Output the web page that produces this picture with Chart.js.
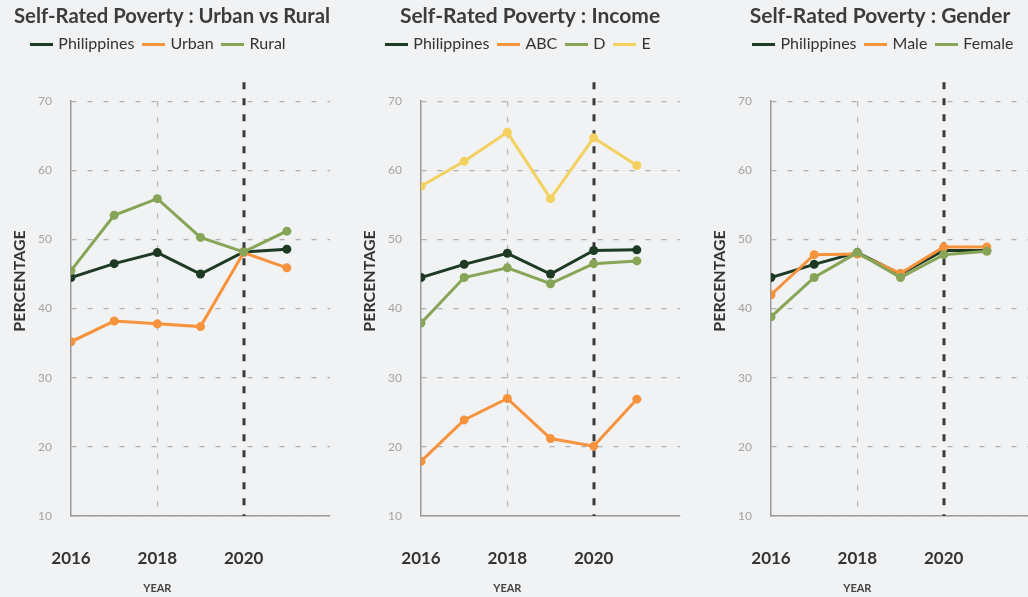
<!DOCTYPE html>
<html>
<head>
<meta charset="utf-8">
<script src="https://cdn.jsdelivr.net/npm/chart.js@4.4.1/dist/chart.umd.min.js"></script>
<style>
  html, body { margin: 0; padding: 0; background: #f1f2f4; width: 1028px; height: 597px; overflow: hidden; }
  .row { display: flex; width: 1050px; height: 597px; }
  .panel { width: 350px; height: 597px; flex: 0 0 350px; }
</style>
</head>
<body>
<div class="row">
  <div class="panel"><canvas id="c1" width="350" height="597"></canvas></div>
  <div class="panel"><canvas id="c2" width="350" height="597"></canvas></div>
  <div class="panel"><canvas id="c3" width="350" height="597"></canvas></div>
</div>
<script>
// ---- data ----
const years = [2016, 2017, 2018, 2019, 2020, 2021];
const xTickLabels = [2016, 2018, 2020];
const yTicks = [10, 20, 30, 40, 50, 60, 70];

const titles = [
  "Self-Rated Poverty : Urban vs Rural",
  "Self-Rated Poverty : Income",
  "Self-Rated Poverty : Gender"
];

// Panel 1: Urban vs Rural
const urbanRuralNames = ["Philippines", "Urban", "Rural"];
const ph1 = [44.5, 46.5, 48.1, 45.0, 48.2, 48.6];
const urban = [35.2, 38.2, 37.8, 37.4, 48.1, 45.9];
const rural = [45.5, 53.5, 55.9, 50.3, 48.2, 51.2];

// Panel 2: Income
const incomeNames = ["Philippines", "ABC", "D", "E"];
const ph2 = [44.5, 46.4, 48.0, 45.0, 48.4, 48.5];
const abc = [17.9, 23.9, 27.0, 21.2, 20.1, 26.9];
const classD = [37.9, 44.5, 45.9, 43.6, 46.5, 46.9];
const classE = [57.7, 61.3, 65.5, 55.9, 64.7, 60.7];

// Panel 3: Gender
const genderNames = ["Philippines", "Male", "Female"];
const ph3 = [44.5, 46.4, 48.1, 45.0, 48.4, 48.4];
const male = [42.0, 47.8, 47.9, 45.1, 48.9, 48.9];
const female = [38.8, 44.5, 48.1, 44.5, 47.8, 48.3];

const markerYear = 2020;
const xTitleAnchor = 2018;   // where the "YEAR" title sits along the x axis
const yTitleAnchor = 44;     // where the "PERCENTAGE" title sits along the y axis

// ---- styles ----
const C_PH = "#1d3a23";
const C_OR = "#f7923d";
const C_GR = "#87a556";
const C_YE = "#f4d15f";
const FONT = "Lato";

function lineSwatch(color) {
  const c = document.createElement("canvas");
  c.width = 23; c.height = 3;
  const g = c.getContext("2d");
  g.fillStyle = color;
  g.fillRect(0, 0, 23, 3);
  return c;
}

function makeDatasets(names, series, colors) {
  const n = names.length;
  return names.map((name, i) => ({
    label: name,
    data: years.map((yr, j) => ({ x: yr, y: series[i][j] })),
    borderColor: colors[i],
    backgroundColor: colors[i],
    pointBackgroundColor: colors[i],
    pointBorderColor: colors[i],
    borderWidth: 3,
    pointRadius: 4.5,
    pointBorderWidth: 0,
    pointHoverRadius: 4.5,
    tension: 0,
    order: n - i
  }));
}

const markerPlugin = {
  id: "marker2020",
  beforeDatasetsDraw(chart) {
    const ctx = chart.ctx;
    const xs = chart.scales.x;
    const area = chart.chartArea;
    const x = Math.round(xs.getPixelForValue(markerYear));
    ctx.save();
    ctx.strokeStyle = "#3a3a3a";
    ctx.lineWidth = 3;
    ctx.setLineDash([7, 9]);
    ctx.beginPath();
    ctx.moveTo(x, area.top - 19);
    ctx.lineTo(x, area.bottom);
    ctx.stroke();
    ctx.restore();
  }
};

const axisTitles = {
  id: "axisTitles",
  afterDraw(chart) {
    const ctx = chart.ctx;
    const xs = chart.scales.x, ys = chart.scales.y;
    ctx.save();
    ctx.fillStyle = "#444";
    ctx.textAlign = "center";
    ctx.textBaseline = "middle";
    ctx.font = "bold 11px " + FONT;
    ctx.fillText("YEAR", xs.getPixelForValue(xTitleAnchor), chart.height - 9);
    ctx.translate(20, ys.getPixelForValue(yTitleAnchor));
    ctx.rotate(-Math.PI / 2);
    ctx.fillStyle = "#333";
    ctx.font = "bold 16px " + FONT;
    ctx.fillText("PERCENTAGE", 0, 0);
    ctx.restore();
  }
};

function legendTweak(dx) {
  return {
    id: "legendTweak",
    beforeInit(chart) {
      const origFit = chart.legend.fit;
      chart.legend.fit = function () {
        origFit.bind(chart.legend)();
        this.height += 39;
      };
    },
    afterLayout(chart) {
      const lg = chart.legend;
      lg.left += dx;
      lg.right += dx;
      if (lg.legendHitBoxes) lg.legendHitBoxes.forEach(h => { h.left += dx; });
    }
  };
}

function makeChart(id, title, datasets, padLeft, legendDx) {
  return new Chart(document.getElementById(id), {
    type: "line",
    data: { datasets },
    plugins: [legendTweak(legendDx), markerPlugin, axisTitles],
    options: {
      responsive: false,
      devicePixelRatio: 1,
      animation: false,
      layout: { padding: { left: padLeft, right: 20, top: 0, bottom: 0 } },
      plugins: {
        title: {
          display: true,
          text: title,
          color: "#3c3c3c",
          font: { family: FONT, size: 21, weight: "bold" },
          padding: { top: 4, bottom: -3 }
        },
        legend: {
          display: true,
          labels: {
            usePointStyle: true,
            pointStyleWidth: 18,
            boxHeight: 14,
            color: "#333",
            padding: 10,
            font: { family: FONT, size: 16 },
            generateLabels(chart) {
              const items = Chart.defaults.plugins.legend.labels.generateLabels(chart);
              items.forEach(it => {
                it.pointStyle = lineSwatch(chart.data.datasets[it.datasetIndex].borderColor);
                it.lineWidth = 0;
              });
              return items.sort((a, b) => a.datasetIndex - b.datasetIndex);
            }
          }
        },
        tooltip: { enabled: false }
      },
      scales: {
        x: {
          type: "linear",
          min: 2016,
          max: 2022,
          afterBuildTicks(scale) {
            scale.ticks = [2016, 2018, 2020, 2022].map(v => ({ value: v }));
          },
          afterFit(scale) {
            scale.height = 81;
            scale.paddingLeft = 0;
            scale.paddingRight = 0;
          },
          ticks: {
            padding: 32,
            color: "#333",
            font: { family: FONT, size: 17, weight: "bold" },
            maxRotation: 0,
            callback: (v) => xTickLabels.includes(v) ? String(v) : ""
          },
          grid: {
            drawTicks: false,
            lineWidth: 1.2,
            color: (c) => (c.tick && c.tick.value === 2018) ? "#b0b0b0" : "rgba(0,0,0,0)"
          },
          border: { display: true, color: "#9a9a9a", width: 1.5, dash: [5, 11] }
        },
        y: {
          min: 10,
          max: 70,
          afterBuildTicks(scale) {
            scale.ticks = yTicks.map(v => ({ value: v }));
          },
          afterFit(scale) {
            scale.width = 71 - padLeft;
          },
          ticks: {
            padding: 19,
            color: "#a3a3a3",
            font: { family: FONT, size: 12 }
          },
          grid: {
            drawTicks: false,
            lineWidth: 1.2,
            color: "#b0b0b0"
          },
          border: { display: true, color: "#9a9a9a", width: 1.5, dash: [5, 11] }
        }
      }
    }
  });
}

makeChart("c1", titles[0], makeDatasets(urbanRuralNames, [ph1, urban, rural], [C_PH, C_OR, C_GR]), 14, -13);
makeChart("c2", titles[1], makeDatasets(incomeNames, [ph2, abc, classD, classE], [C_PH, C_OR, C_GR, C_YE]), 30, -11);
makeChart("c3", titles[2], makeDatasets(genderNames, [ph3, male, female], [C_PH, C_OR, C_GR]), 30, 4);
</script>
</body>
</html>
